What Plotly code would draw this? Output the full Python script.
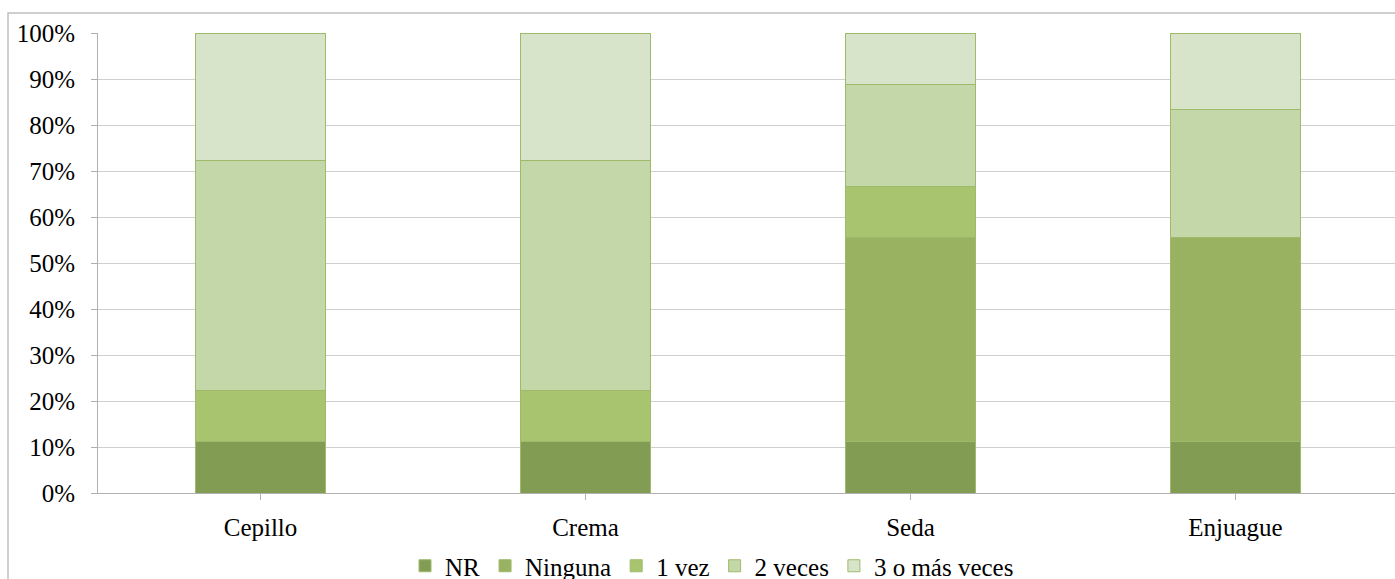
import plotly.graph_objects as go

# Products and response categories
categories = ["Cepillo", "Crema", "Seda", "Enjuague"]
series_names = ["NR", "Ninguna", "1 vez", "2 veces", "3 o más veces"]

# Percentages per product (each column sums to 100)
nr = [11.1, 11.1, 11.1, 11.1]
ninguna = [0.0, 0.0, 44.4, 44.4]
una_vez = [11.1, 11.1, 11.1, 0.0]
dos_veces = [50.0, 50.0, 22.2, 27.8]
tres_o_mas = [27.8, 27.8, 11.1, 16.7]

series_values = [nr, ninguna, una_vez, dos_veces, tres_o_mas]
colors = ["#839c54", "#98b262", "#a8c46f", "#c4d7a9", "#d8e4c9"]

tick_vals = [0, 10, 20, 30, 40, 50, 60, 70, 80, 90, 100]
tick_text = [f"{v}%" for v in tick_vals]

FONT = "Times New Roman, Liberation Serif, DejaVu Serif, serif"

fig = go.Figure()
for name, vals, col in zip(series_names, series_values, colors):
    fig.add_trace(go.Bar(
        x=list(range(len(categories))),
        y=vals,
        name=name,
        marker=dict(color=col, line=dict(color="#9dbb6a", width=1)),
        width=0.4,
    ))

W, H = 1395, 579
left, right, top, bottom = 98, 0, 33, 86
plot_w = W - left - right
plot_h = H - top - bottom

fig.update_layout(
    width=W, height=H,
    barmode="stack",
    paper_bgcolor="white",
    plot_bgcolor="white",
    margin=dict(l=left, r=right, t=top, b=bottom, pad=0, autoexpand=False),
    font=dict(family=FONT, size=25, color="#000000"),
    showlegend=True,
    legend=dict(
        orientation="h",
        x=(712 - left) / plot_w, xanchor="center",
        y=(H - bottom - 566) / plot_h, yanchor="middle",
        font=dict(family=FONT, size=25),
        traceorder="normal",
        itemwidth=30,
        tracegroupgap=0,
        bgcolor="rgba(0,0,0,0)",
    ),
    xaxis=dict(
        range=[-0.5, -0.5 + 4 * plot_w / 1300],
        tickmode="array",
        tickvals=list(range(len(categories))),
        ticktext=categories,
        ticks="outside", ticklen=6, tickcolor="#b0b0b0",
        tickson="boundaries",
        showline=True, linecolor="#b0b0b0", linewidth=1,
        showgrid=False, zeroline=False,
        ticklabelstandoff=6,
        tickfont=dict(family=FONT, size=25),
    ),
    yaxis=dict(
        range=[0, 100],
        tickmode="array",
        tickvals=tick_vals,
        ticktext=tick_text,
        ticks="outside", ticklen=6, tickcolor="#b0b0b0",
        showline=True, linecolor="#b0b0b0", linewidth=1,
        showgrid=True, gridcolor="#cfcfcf", gridwidth=1,
        zeroline=False,
        ticklabelstandoff=11,
        tickfont=dict(family=FONT, size=25),
    ),
    shapes=[dict(
        type="rect", xref="paper", yref="paper",
        x0=(8 - left) / plot_w, x1=1.2,
        y0=-0.3, y1=(H - bottom - 13) / plot_h,
        line=dict(color="#c0c0c0", width=1.5),
        fillcolor="rgba(0,0,0,0)", layer="below",
    )],
)

fig.write_html("out.html")
